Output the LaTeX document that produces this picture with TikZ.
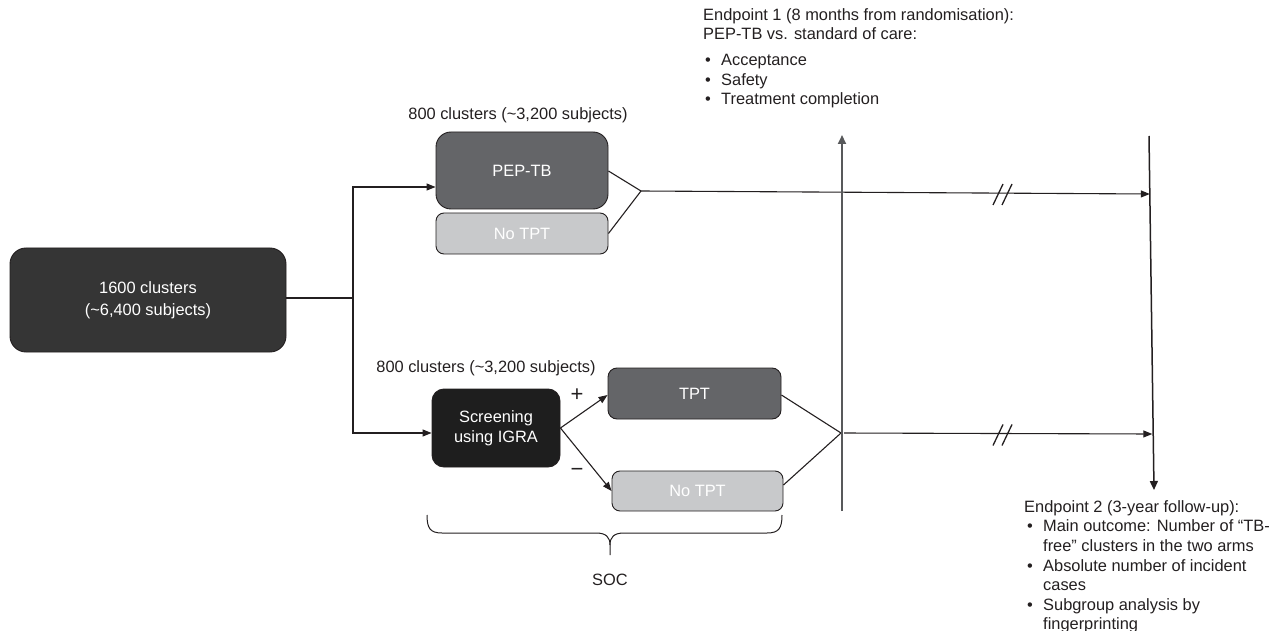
\documentclass[tikz,border=0pt]{standalone}
\usepackage{fontspec}
\setmainfont{Liberation Sans}
\usetikzlibrary{arrows.meta,calc}
\definecolor{boxdark}{HTML}{353535}
\definecolor{boxmid}{HTML}{646568}
\definecolor{boxlight}{HTML}{C8C9CB}
\definecolor{boxblack}{HTML}{1E1E1E}
\definecolor{ink}{HTML}{231F20}
\definecolor{rulegray}{HTML}{58595B}
\begin{document}
\begin{tikzpicture}[x=1pt,y=-1pt,
  font=\fontsize{16.4}{19.7}\selectfont,
  box/.style={draw=ink, line width=0.9pt, text=white, align=center, inner sep=0pt},
  conn/.style={draw=ink, line width=1.1pt},
  arr/.style={conn, -{Triangle[length=9pt,width=7pt]}},
  timeline/.style={draw=rulegray, line width=2pt},
  txt/.style={anchor=base west, inner sep=0pt, text=ink},
  lbl/.style={inner sep=0pt, text=ink},
  sign/.style={inner sep=0pt, text=ink, font=\fontsize{22}{22}\selectfont},
  bul/.style={txt},
]
\useasboundingbox (0,0) rectangle (1269,631);

% boxes
\node[box, fill=boxdark, rounded corners=16pt, minimum width=276pt, minimum height=104pt]
  (all) at (148,300) {1600 clusters\\[2pt](\textasciitilde 6,400 subjects)};
\node[box, fill=boxmid, rounded corners=15pt, minimum width=172pt, minimum height=77pt]
  (pep) at (522,170.5) {PEP-TB};
\node[box, fill=boxlight, rounded corners=8pt, minimum width=172pt, minimum height=41pt]
  (notptA) at (522,233.5) {\raisebox{-2pt}{No TPT}};
\node[box, fill=boxblack, rounded corners=12pt, minimum width=128pt, minimum height=78pt]
  (scr) at (496,428) {Screening\\using IGRA};
\node[box, fill=boxmid, rounded corners=9pt, minimum width=173pt, minimum height=51pt]
  (tpt) at (694.5,393.5) {TPT};
\node[box, fill=boxlight, rounded corners=8pt, minimum width=171pt, minimum height=40pt]
  (notptB) at (697.5,491) {\raisebox{-2pt}{No TPT}};

% labels
\node[lbl] (lblA) at (518,115) {800 clusters (\textasciitilde 3,200 subjects)};
\node[lbl] (lblB) at (486,368) {800 clusters (\textasciitilde 3,200 subjects)};
\node[sign] (plus) at (577,395) {+};
\node[sign] (minus) at (577,472) {−};
\node[lbl] (soc) at (610,580) {SOC};

% junction points
\coordinate (split) at (353,298);
\coordinate (convA) at (641,191);
\coordinate (convB) at (841,433);
\coordinate (midtop) at (842,135);
\coordinate (midbot) at (842,511);
\coordinate (endtop) at (1149,136);
\coordinate (endbot) at (1154,490);
\coordinate (hitA) at (1149.8,194);
\coordinate (hitB) at (1152.3,434);

% randomisation split
\draw[conn] (all.east |- split) -- (split);
\draw[arr] (split) |- ($(pep.west)+(0,16.5)$);
\draw[arr] (split) |- ($(scr.west)+(0,5)$);

% intervention arm
\draw[conn] ($(pep.east)+(0,0.5)$) -- (convA);
\draw[conn] (notptA.east) -- (convA);
\draw[arr] (convA) -- (hitA);

% standard-of-care arm
\draw[arr] (scr.east) -- ($(tpt.west)+(0,1.5)$);
\draw[arr] (scr.east) -- (notptB.west);
\draw[conn] ($(tpt.east)+(0,1.5)$) -- (convB);
\draw[conn] ($(notptB.east)+(0,-6)$) -- (convB);
\draw[arr, shorten <=3pt] (convB) -- (hitB);

% time axes
\draw[timeline, -{Triangle[length=9pt,width=8pt]}] (midbot) -- (midtop);
\draw[conn, line width=1.5pt, -{Triangle[length=9pt,width=8pt]}] (endtop) -- (endbot);

% break marks
\foreach \yy in {194.5,435}{
  \draw[ink, line width=1.3pt] (993,\yy+10.5) -- (1003,\yy-10.5);
  \draw[ink, line width=1.3pt] (1002,\yy+10.5) -- (1012,\yy-10.5);
}

% SOC brace
\draw[ink, line width=1pt]
  (427,515) .. controls (427,528) and (430,533) .. (442,533) -- (596,533)
  .. controls (606,533) and (610,537) .. (610,545) -- (610,555);
\draw[ink, line width=1pt]
  (782,515) .. controls (782,528) and (779,533) .. (767,533) -- (624,533)
  .. controls (614,533) and (610,537) .. (610,545);

% endpoint 1
\node[txt] (ea) at (703,21) {Endpoint 1 (8 months from randomisation):};
\node[txt] (eb) at (703,39.5) {PEP-TB vs. standard of care:};
\node[bul] (ec) at (705,66) {\makebox[16pt][l]{•}Acceptance};
\node[bul] (ed) at (705,85.5) {\makebox[16pt][l]{•}Safety};
\node[bul] (ee) at (705,105) {\makebox[16pt][l]{•}Treatment completion};

% endpoint 2
\node[txt] (fa) at (1024,512) {Endpoint 2 (3-year follow-up):};
\node[bul] (fb) at (1027,531.7) {\makebox[16pt][l]{•}Main outcome: Number of “TB-};
\node[txt] (fc) at (1043,551.4) {free” clusters in the two arms};
\node[bul] (fd) at (1027,571.1) {\makebox[16pt][l]{•}Absolute number of incident};
\node[txt] (fe) at (1043,590.8) {cases};
\node[bul] (ff) at (1027,610.5) {\makebox[16pt][l]{•}Subgroup analysis by};
\node[txt] (fg) at (1043,629.5) {fingerprinting};
\end{tikzpicture}
\end{document}
